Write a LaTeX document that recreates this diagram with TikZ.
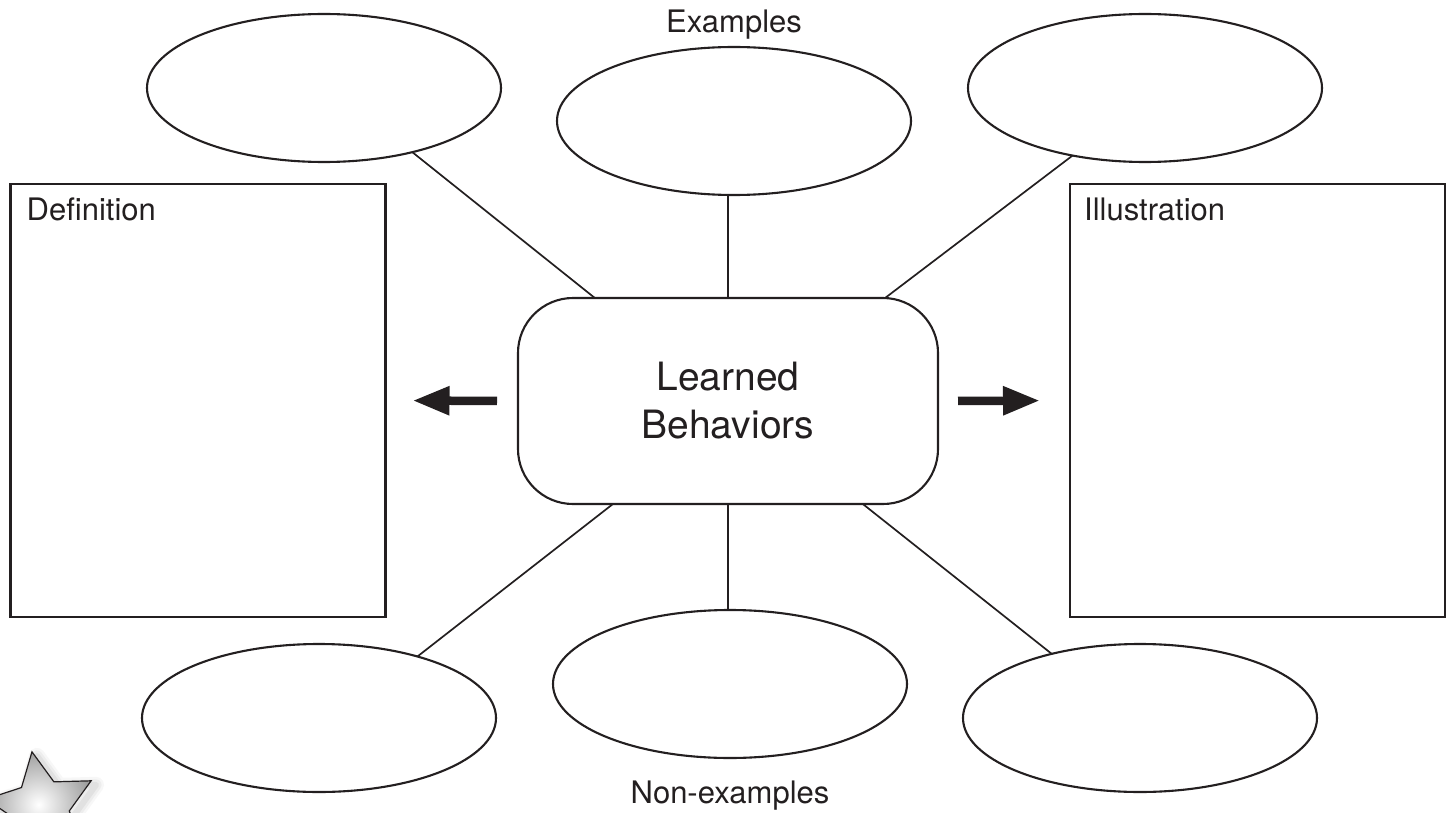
\documentclass[tikz,border=0pt]{standalone}
\usepackage{fontspec}
\setmainfont{TeX Gyre Heros}
\usetikzlibrary{shapes.geometric,arrows.meta,calc}
\definecolor{ink}{HTML}{231F20}
\begin{document}
\begin{tikzpicture}[x=1pt,y=-1pt,
  outline/.style={draw=ink, line width=2.1pt, fill=white, inner sep=0pt, outer sep=0pt},
  oval/.style={outline, ellipse, minimum width=354pt, minimum height=148pt},
  panel/.style={outline, rectangle, minimum width=375pt, minimum height=433pt, line width=2.5pt},
  hub/.style={outline, rectangle, rounded corners=55pt, minimum width=420pt, minimum height=206pt,
    align=center, text=ink, font=\fontsize{39}{48}\selectfont},
  link/.style={draw=ink, line width=1.7pt},
  bigarrow/.style={draw=ink, line width=8.5pt, -{Triangle[length=37pt,width=27pt]}},
  lbl/.style={font=\fontsize{31}{36}\selectfont, text=ink, inner sep=0pt},
  starpath/.style={line join=miter}
]
\useasboundingbox (0,0) rectangle (1453,813);
\fill[white] (0,0) rectangle (1453,813);

% star (partially cut off)
\begin{scope}
  \clip (0,0) rectangle (1453,813);
  \begin{scope}[shift={(41.6,807)}]
    \foreach \w/\o in {16/0.06,11/0.08,6/0.1}{
      \draw[gray, line width=\w pt, opacity=\o, line join=round, shift={(5,4)}]
        (-99.9:56) -- (-135.9:28) -- (-171.9:56) -- (-207.9:28) -- (-243.9:56) -- (-279.9:28)
        -- (-315.9:56) -- (-351.9:28) -- (-387.9:56) -- (-423.9:28) -- cycle;
    }
    \shade[inner color=white, outer color=gray!75, draw=ink, line width=1.2pt, starpath]
      (-99.9:56) -- (-135.9:28) -- (-171.9:56) -- (-207.9:28) -- (-243.9:56) -- (-279.9:28)
      -- (-315.9:56) -- (-351.9:28) -- (-387.9:56) -- (-423.9:28) -- cycle;
  \end{scope}
\end{scope}

% shapes
\node[oval] (tl) at (324,88) {};
\node[oval] (tm) at (734,121) {};
\node[oval] (tr) at (1145,88) {};
\node[oval] (bl) at (319,718) {};
\node[oval] (bm) at (730,684) {};
\node[oval] (br) at (1140,718) {};
\node[panel] (def) at (198,400.5) {};
\node[panel] (ill) at (1257.5,400.5) {};
\node[hub] (box) at (728,401) {Learned\\Behaviors};

% connectors
\draw[link] (box.north) -- (box.north |- tm.south);
\draw[link] (box.south) -- (box.south |- bm.north);
\draw[link] (tl.-36.9) -- ($(box.north west)!0.183!(box.north east)$);
\draw[link] (tr.-137.4) -- ($(box.north west)!0.874!(box.north east)$);
\draw[link] (bl.32.6) -- ($(box.south west)!0.226!(box.south east)$);
\draw[link] (br.144) -- ($(box.south west)!0.821!(box.south east)$);

% arrows
\draw[bigarrow, shorten <=21pt, shorten >=27pt] (box.west) -- (def.east);
\draw[bigarrow, shorten <=20pt, shorten >=30pt] (box.east) -- (ill.west);

% labels
\node[lbl, anchor=base] (ex) at ($(tm.north)+(0,-14)$) {Examples};
\node[lbl, anchor=base] (nex) at ($(bm.south)+(0,45)$) {Non-examples};
\node[lbl, anchor=base west] (dl) at ($(def.north west)+(16,37)$) {Definition};
\node[lbl, anchor=base west] (il) at ($(ill.north west)+(14,37)$) {Illustration};
\end{tikzpicture}
\end{document}
